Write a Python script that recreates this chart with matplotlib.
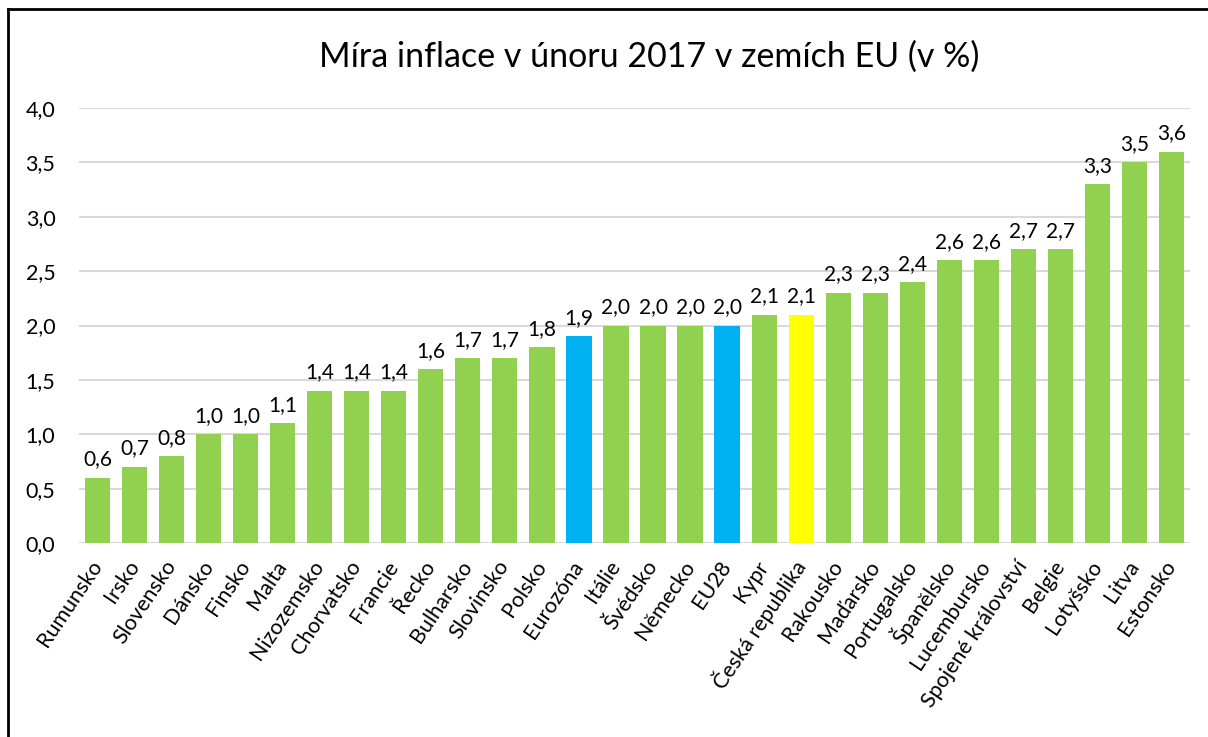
import matplotlib
matplotlib.use("Agg")
import matplotlib.pyplot as plt
import numpy as np

plt.rcParams['font.family'] = ['Lato', 'DejaVu Sans']

# %% Data
countries = ["Rumunsko", "Irsko", "Slovensko", "Dánsko", "Finsko", "Malta",
             "Nizozemsko", "Chorvatsko", "Francie", "Řecko", "Bulharsko",
             "Slovinsko", "Polsko", "Eurozóna", "Itálie", "Švédsko", "Německo",
             "EU28", "Kypr", "Česká republika", "Rakousko", "Maďarsko",
             "Portugalsko", "Španělsko", "Lucembursko", "Spojené království",
             "Belgie", "Lotyšsko", "Litva", "Estonsko"]
inflation = [0.6, 0.7, 0.8, 1.0, 1.0, 1.1, 1.4, 1.4, 1.4, 1.6, 1.7, 1.7, 1.8,
             1.9, 2.0, 2.0, 2.0, 2.0, 2.1, 2.1, 2.3, 2.3, 2.4, 2.6, 2.6, 2.7,
             2.7, 3.3, 3.5, 3.6]
blue_items = ["Eurozóna", "EU28"]
yellow_items = ["Česká republika"]

# %% Plot
green, blue, yellow = "#92D050", "#00B0F0", "#FFFF00"
colors = [blue if c in blue_items else yellow if c in yellow_items else green
          for c in countries]

fig = plt.figure(figsize=(12.08, 7.37), dpi=100)
ax = fig.add_axes([79/1208, 1-543/737, (1190-79)/1208, (543-108)/737])

x = np.arange(len(countries))
ax.bar(x, inflation, width=0.68, color=colors, zorder=2)

for xi, v in zip(x, inflation):
    ax.annotate(f"{v:.1f}".replace(".", ","), (xi, v), xytext=(0, 6),
                textcoords="offset points", ha="center", va="bottom",
                fontsize=15)

ax.set_xlim(-0.5, len(countries) - 0.5)
ax.set_ylim(0, 4.0)
yt = np.arange(0, 4.01, 0.5)
ax.set_yticks(yt)
ax.set_yticklabels([f"{t:.1f}".replace(".", ",") for t in yt], fontsize=15.5)
ax.set_xticks(x)
ax.set_xticklabels(countries, rotation=56, ha="right", va="center",
                   rotation_mode="anchor", fontsize=15.5)
ax.tick_params(axis="both", length=0)
ax.tick_params(axis="x", pad=14)
ax.tick_params(axis="y", pad=17)
ax.yaxis.grid(True, color="#D9D9D9", linewidth=1.5, zorder=0)
for s in ax.spines.values():
    s.set_visible(False)

fig.text(649/1208, 1-57/737, "Míra inflace v únoru 2017 v zemích EU (v %)",
         ha="center", va="center", fontsize=24.5)

# frame around the chart (top and left edges visible)
fig.add_artist(plt.Line2D([8/1208, 8/1208], [0, 1-9/737], color="black",
                          linewidth=2, transform=fig.transFigure))
fig.add_artist(plt.Line2D([8/1208, 1], [1-9/737, 1-9/737], color="black",
                          linewidth=2, transform=fig.transFigure))

fig.savefig("out.png", dpi=100)
